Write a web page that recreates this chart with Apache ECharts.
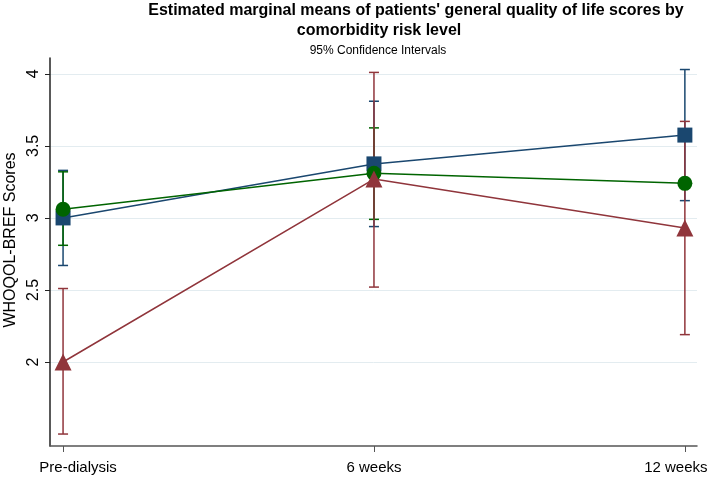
<!DOCTYPE html>
<html>
<head>
<meta charset="utf-8">
<script src="https://cdn.jsdelivr.net/npm/echarts@6/dist/echarts.min.js"></script>
<style>
  html, body { margin: 0; padding: 0; background: #fff; }
  #main { width: 709px; height: 481px; }
</style>
</head>
<body>
<div id="main"></div>
<script>
// time points and y ticks
var categories = ['Pre-dialysis', '6 weeks', '12 weeks'];
var yTicks = [2, 2.5, 3, 3.5, 4];

// estimated marginal means with 95% CI, per comorbidity risk level
var lowMean = [3.00, 3.375, 3.575];
var lowLo = [2.67, 2.94, 3.12];
var lowHi = [3.33, 3.81, 4.03];

var midMean = [3.06, 3.31, 3.24];
var midLo = [2.81, 2.99, null];
var midHi = [3.32, 3.625, null];

var highMean = [2.00, 3.27, 2.93];
var highLo = [1.50, 2.52, 2.19];
var highHi = [2.51, 4.01, 3.67];

var blue = '#1a476f', green = '#006400', red = '#90353b';
var font = 'Liberation Sans, Arial, sans-serif';

function ciSeries(name, lo, hi, color) {
    var data = [];
    for (var i = 0; i < categories.length; i++) {
        if (lo[i] != null) data.push([i, lo[i], hi[i]]);
    }
    return {
        type: 'custom',
        name: name,
        z: 1,
        data: data,
        renderItem: function (params, api) {
            var x = api.value(0);
            var p1 = api.coord([x, api.value(1)]);
            var p2 = api.coord([x, api.value(2)]);
            var w = 5;
            var st = { stroke: color, lineWidth: 1.5 };
            return {
                type: 'group',
                children: [
                    { type: 'line', shape: { x1: p1[0], y1: p1[1], x2: p2[0], y2: p2[1] }, style: st },
                    { type: 'line', shape: { x1: p1[0] - w, y1: p1[1], x2: p1[0] + w, y2: p1[1] }, style: st },
                    { type: 'line', shape: { x1: p2[0] - w, y1: p2[1], x2: p2[0] + w, y2: p2[1] }, style: st }
                ]
            };
        }
    };
}

function meanSeries(name, mean, color, symbol, size) {
    return {
        type: 'line',
        name: name,
        z: 2,
        data: mean.map(function (v, i) { return [i, v]; }),
        symbol: symbol,
        symbolSize: size,
        showAllSymbol: true,
        lineStyle: { color: color, width: 1.5 },
        itemStyle: { color: color, borderWidth: 0 }
    };
}

var chart = echarts.init(document.getElementById('main'));
var option = {
    animation: false,
    backgroundColor: '#fff',
    textStyle: { fontFamily: font },
    grid: { left: 50, right: 12, top: 58, bottom: 35, containLabel: false, outerBoundsMode: 'none' },
    graphic: [
        { type: 'text', x: 416, y: 11, style: { text: "Estimated marginal means of patients' general quality of life scores by", font: 'bold 16px ' + font, fill: '#000', align: 'center', verticalAlign: 'middle' } },
        { type: 'text', x: 379, y: 31, style: { text: 'comorbidity risk level', font: 'bold 16px ' + font, fill: '#000', align: 'center', verticalAlign: 'middle' } },
        { type: 'text', x: 378, y: 51, style: { text: '95% Confidence Intervals', font: '12px ' + font, fill: '#000', align: 'center', verticalAlign: 'middle' } }
    ],
    xAxis: {
        type: 'value',
        min: -0.042,
        max: 2.039,
        axisLine: { show: true, onZero: false, lineStyle: { color: '#555', width: 1.5 } },
        axisTick: { show: true, length: 6, customValues: [0, 1, 2], lineStyle: { color: '#555' } },
        axisLabel: {
            customValues: [0, 1, 2],
            margin: 14,
            fontSize: 15,
            color: '#000',
            formatter: function (v) {
                var i = Math.round(v);
                if (i === 0) return '{first|' + categories[i] + '}';
                if (i === categories.length - 1) return '{last|' + categories[i] + '}';
                return categories[i];
            },
            rich: {
                first: { fontSize: 15, color: '#000', padding: [0, 0, 0, 30] },
                last: { fontSize: 15, color: '#000', padding: [0, 18, 0, 0] }
            }
        },
        splitLine: { show: false }
    },
    yAxis: {
        type: 'value',
        min: 1.417,
        max: 4.11,
        name: 'WHOQOL-BREF Scores',
        nameLocation: 'middle',
        nameGap: 25,
        nameRotate: 90,
        nameTextStyle: { fontSize: 16, color: '#000', padding: [0, 0, 0, 24] },
        axisLine: { show: true, onZero: false, lineStyle: { color: '#222', width: 1.5 } },
        axisTick: { show: true, length: 5, customValues: yTicks, lineStyle: { color: '#222' } },
        axisLabel: { customValues: yTicks, rotate: 90, margin: 8, fontSize: 16, color: '#000' },
        splitLine: { show: true, lineStyle: { color: '#e3ecf0', width: 1 } }
    },
    series: [
        ciSeries('Low risk CI', lowLo, lowHi, blue),
        ciSeries('Medium risk CI', midLo, midHi, green),
        ciSeries('High risk CI', highLo, highHi, red),
        meanSeries('Low risk', lowMean, blue, 'rect', 15),
        meanSeries('Medium risk', midMean, green, 'circle', 15),
        meanSeries('High risk', highMean, red, 'triangle', 17)
    ]
};
chart.setOption(option);
</script>
</body>
</html>
